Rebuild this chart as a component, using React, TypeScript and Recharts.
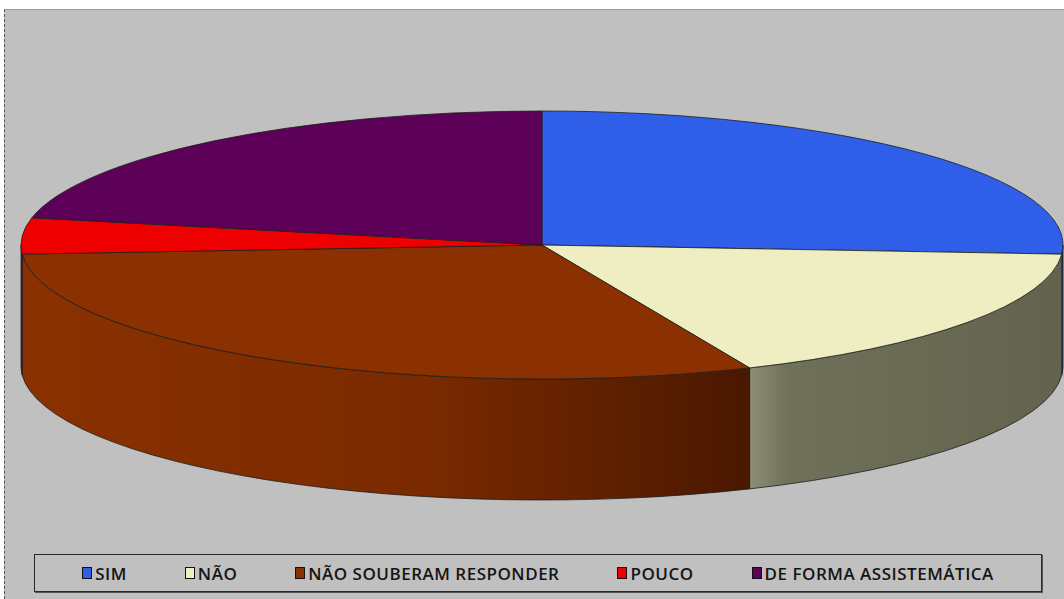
import { PieChart, Pie, Cell, Legend } from "recharts";

const NAMES = ["SIM", "NÃO", "NÃO SOUBERAM RESPONDER", "POUCO", "DE FORMA ASSISTEMÁTICA"];
const VALUES = [6, 4, 7, 1, 5];

const TOP_COLORS = ["#2F5FE9", "#EEEEC2", "#8B3000", "#EE0000", "#5C0058"];
// side wall shading, left to right
const SIDE_GRAD: [number, string][][] = [
  [[0, "#2448B0"], [1, "#1B3889"]],
  [[0, "#8C8E77"], [0.12, "#70715A"], [1, "#62624E"]],
  [[0, "#8B3100"], [0.55, "#7A2A00"], [1, "#4A1800"]],
  [[0, "#A80000"], [1, "#800000"]],
  [[0, "#40003D"], [1, "#300030"]],
];

const data = NAMES.map((name, i) => ({ name, value: VALUES[i] }));

const RAD = Math.PI / 180;
const K = 134 / 521; // vertical squash of the top face
const DEPTH = 121;

function pt(cx: number, cy: number, r: number, a: number, dy = 0) {
  return `${cx + r * Math.cos(a * RAD)},${cy - r * K * Math.sin(a * RAD) + dy}`;
}

function TopSlice(props: any) {
  const { cx, cy, outerRadius: r, startAngle: s, endAngle: e, fill } = props;
  const large = Math.abs(s - e) > 180 ? 1 : 0;
  const sweep = s > e ? 1 : 0;
  const d = `M${cx},${cy} L${pt(cx, cy, r, s)} A${r},${r * K} 0 ${large} ${sweep} ${pt(cx, cy, r, e)} Z`;
  return <path d={d} fill={fill} stroke="#1e1e1e" strokeWidth={0.8} strokeLinejoin="round" />;
}

function SideSlice(props: any) {
  const { cx, cy, outerRadius: r, startAngle: s, endAngle: e } = props;
  const name = props.name ?? props.payload?.name;
  const idx = Math.max(0, NAMES.indexOf(name));
  // only the front half (screen-lower) of the rim is visible
  const a0 = Math.min(Math.max(s, e), 0);
  const a1 = Math.max(Math.min(s, e), -180);
  if (a0 - a1 <= 0.05) return <g />;
  const d =
    `M${pt(cx, cy, r, a0)} A${r},${r * K} 0 0 1 ${pt(cx, cy, r, a1)} ` +
    `L${pt(cx, cy, r, a1, DEPTH)} A${r},${r * K} 0 0 0 ${pt(cx, cy, r, a0, DEPTH)} Z`;
  const id = `side-grad-${idx}`;
  return (
    <g>
      <defs>
        <linearGradient id={id} x1="0" y1="0" x2="1" y2="0">
          {SIDE_GRAD[idx].map(([o, c], i) => (
            <stop key={i} offset={o} stopColor={c} />
          ))}
        </linearGradient>
      </defs>
      <path d={d} fill={`url(#${id})`} stroke="#1e1e1e" strokeWidth={0.8} strokeLinejoin="round" />
    </g>
  );
}

function LegendBox({ payload }: any) {
  const items = (payload || [])
    .filter((p: any) => p.type !== "none")
    .slice()
    .sort((a: any, b: any) => NAMES.indexOf(a.value) - NAMES.indexOf(b.value));
  return (
    <div
      style={{
        height: 36,
        border: "1px solid #2a2a2a",
        boxShadow: "1px 1px 0 #555",
        display: "flex",
        alignItems: "center",
        justifyContent: "center",
        gap: 58,
        fontFamily: "'Open Sans', sans-serif",
        fontWeight: 600,
        fontSize: 17,
        letterSpacing: 0.5,
        color: "#151515",
      }}
    >
      {items.map((p: any) => (
        <div key={p.value} style={{ display: "flex", alignItems: "center" }}>
          <span
            style={{
              width: 8,
              height: 10,
              background: p.color,
              border: "1.5px solid #111",
              marginRight: 3,
              display: "inline-block",
            }}
          />
          <span>{p.value}</span>
        </div>
      ))}
    </div>
  );
}

export default function App() {
  return (
    <div style={{ position: "absolute", left: 0, top: 0, width: 1064, height: 599, background: "#fff" }}>
      <div
        style={{
          position: "absolute",
          left: 4,
          top: 9,
          width: 1060,
          height: 590,
          background: "#C0C0C0",
          borderTop: "1px solid #9a9a9a",
          borderLeft: "1px dashed #555",
          boxSizing: "border-box",
        }}
      />
      <div style={{ position: "absolute", left: 0, top: 0 }}>
        <PieChart width={1064} height={599} margin={{ top: 0, right: 0, bottom: 0, left: 0 }}>
          <Pie
            data={data}
            dataKey="value"
            nameKey="name"
            cx={542}
            cy={245}
            outerRadius={521}
            startAngle={90}
            endAngle={-270}
            legendType="none"
            isAnimationActive={false}
            shape={SideSlice}
            activeShape={SideSlice}
            inactiveShape={SideSlice}
          />
          <Pie
            data={data}
            dataKey="value"
            nameKey="name"
            cx={542}
            cy={245}
            outerRadius={521}
            startAngle={90}
            endAngle={-270}
            legendType="square"
            isAnimationActive={false}
            shape={TopSlice}
            activeShape={TopSlice}
            inactiveShape={TopSlice}
          >
            {data.map((d, i) => (
              <Cell key={d.name} fill={TOP_COLORS[i]} />
            ))}
          </Pie>
          <Legend
            verticalAlign="bottom"
            itemSorter={null}
            content={<LegendBox />}
            wrapperStyle={{ left: 34, bottom: 7, width: 1008 }}
          />
        </PieChart>
      </div>
    </div>
  );
}
